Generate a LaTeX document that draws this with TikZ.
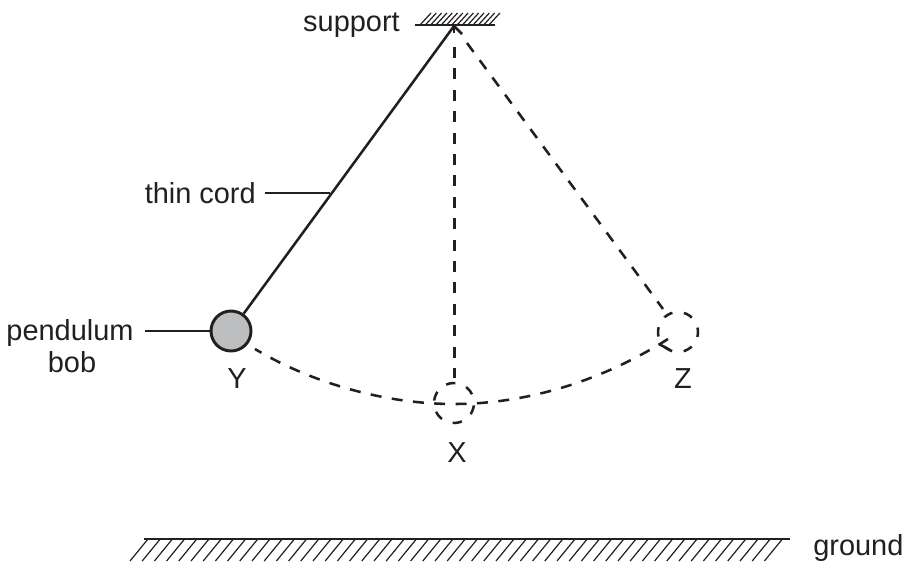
\documentclass[tikz,border=0pt]{standalone}
\usepackage{fontspec}
\usetikzlibrary{calc}
\setmainfont{Liberation Sans}
\definecolor{ink}{HTML}{231F20}
\definecolor{bobfill}{HTML}{BCBEC0}
\tikzset{
 label/.style={font=\fontsize{21.7}{25}\selectfont,text=ink,inner sep=0pt,anchor=base},
 leftlabel/.style={label,anchor=base east},
 thick line/.style={draw=ink,line width=1.9pt},
 thin line/.style={draw=ink,line width=1pt},
 hatch/.style={draw=ink,line width=0.9pt},
 dash line/.style={draw=ink,line width=1.9pt,dash pattern=on 8.25pt off 7.8pt},
 ghost/.style={circle,draw=ink,line width=1.9pt,dash pattern=on 7pt off 8.7pt,minimum size=30pt,inner sep=0pt},
 bob/.style={circle,draw=ink,fill=bobfill,line width=2.2pt,minimum size=30pt,inner sep=0pt},
}
\begin{document}
\begin{tikzpicture}[x=0.75pt,y=-0.75pt]
\useasboundingbox (0,0) rectangle (906,565);
\coordinate (apex) at (454,26);
\coordinate (supL) at (415,25);
\coordinate (supR) at (495,25);
\coordinate (gndL) at (144,539);
\coordinate (gndR) at (790,539);
% support
\foreach \i in {0,...,13} {
  \draw[hatch] ($(420,25)+(\i*5.3,0)$) -- ++(11,-12);
}
\draw[thick line] (supL) -- (supR);
% ground
\foreach \i in {0,...,52} {
  \draw[hatch] ($(148,539)+(\i*12.2,0)$) -- ++(-18,22);
}
\draw[thick line] (gndL) -- (gndR);
% bobs
\node[bob] (Y) at (231,331) {};
\node[ghost,rotate=26] (X) at (454,403) {};
\node[ghost,rotate=-14] (Z) at (678,332) {};
% cords
\draw[thick line] (apex) -- (Y);
\draw[thick line] (apex) -- ++(8,8);
\draw[thick line] (apex) -- ++(0,7);
\coordinate (vtop) at (454.5,47);
\coordinate (vbot) at (454.5,378);
\draw[dash line] (vtop) -- (vbot);
\coordinate (ztop) at (467,43);
\coordinate (zbot) at (663,309);
\draw[dash line] (ztop) -- (zbot);
% arc, drawn from Z towards Y
\coordinate (arcZ) at (668,339);
\coordinate (arcM) at (454,404);
\coordinate (arcY) at (255,349);
\draw[dash line] (arcZ) .. controls (600,382) and (525,404) .. (arcM)
  .. controls (385,404) and (312,383) .. (arcY);
\coordinate (tickA) at (659,344);
\coordinate (tickB) at (670,350);
\draw[dash line,dash pattern=] (tickA) -- (tickB);
% labels
\node[leftlabel] (lsup) at (400,31) {support};
\node[leftlabel] (lcord) at (256,203) {thin cord};
\coordinate (cordL) at (265,193);
\coordinate (cordpt) at (330,193);
\draw[thin line] (cordL) -- (cordpt);
\node[label] (lpen) at (70,340) {pendulum};
\node[label] (lbob) at (72,372) {bob};
\coordinate (penR) at (145,331);
\draw[thin line] (penR) -- (Y.west);
\node[label] (lY) at (237,388) {Y};
\node[label] (lX) at (457,462) {X};
\node[label] (lZ) at (683,388) {Z};
\node[label,anchor=base west] (lg) at (813,555) {ground};
\end{tikzpicture}
\end{document}
